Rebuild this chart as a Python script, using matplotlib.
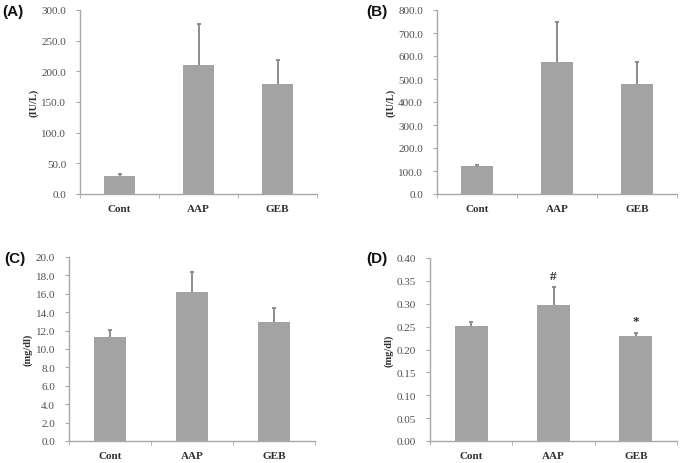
import matplotlib
matplotlib.use("Agg")
import matplotlib.pyplot as plt
import numpy as np

categories = ["Cont", "AAP", "GEB"]

a_vals = [30.0, 210.0, 180.0]
a_errs = [2.5, 67.0, 39.0]
b_vals = [120.0, 575.0, 480.0]
b_errs = [8.0, 173.0, 95.0]
c_vals = [11.3, 16.2, 12.9]
c_errs = [0.8, 2.2, 1.6]
d_vals = [0.252, 0.298, 0.230]
d_errs = [0.009, 0.038, 0.007]

a_ticks = [0, 50, 100, 150, 200, 250, 300]
b_ticks = [0, 100, 200, 300, 400, 500, 600, 700, 800]
c_ticks = [0, 2, 4, 6, 8, 10, 12, 14, 16, 18, 20]
d_ticks = [0.00, 0.05, 0.10, 0.15, 0.20, 0.25, 0.30, 0.35, 0.40]

d_marks = ["", "#", "*"]

W, H = 685, 464
fig = plt.figure(figsize=(W / 100, H / 100), dpi=100)

def px_axes(x0, y0, x1, y1):
    return fig.add_axes([x0 / W, 1 - y1 / H, (x1 - x0) / W, (y1 - y0) / H])

bar_color = "#a3a3a3"
axis_color = "#a8a8a8"
err_color = "#8c8c8c"
text_color = "#505050"

panels = [
    ("(A)", (80, 11, 317, 195), a_vals, a_errs, a_ticks, "{:.1f}", "(IU/L)", None, (2, 12)),
    ("(B)", (437, 11, 677, 195), b_vals, b_errs, b_ticks, "{:.1f}", "(IU/L)", None, (366, 12)),
    ("(C)", (69, 258, 315, 442), c_vals, c_errs, c_ticks, "{:.1f}", "(mg/dl)", None, (4, 259)),
    ("(D)", (430, 259, 677, 442), d_vals, d_errs, d_ticks, "{:.2f}", "(mg/dl)", d_marks, (366, 259)),
]

x = np.arange(len(categories))
for letter, box, vals, errs, ticks, fmt, ylabel, marks, lpos in panels:
    ax = px_axes(*box)
    vals = np.array(vals)
    errs = np.array(errs)
    ax.bar(x, vals, width=0.4, color=bar_color, zorder=2)
    ax.vlines(x, vals, vals + errs, color=err_color, linewidth=1.4, zorder=3)
    ax.scatter(x, vals + errs, marker="_", s=12, color=err_color, linewidths=1.4, zorder=3)
    ax.set_xlim(-0.5, 2.5)
    ax.set_ylim(ticks[0], ticks[-1])
    ax.set_yticks(ticks)
    ax.set_yticklabels([fmt.format(t) for t in ticks], fontsize=8,
                       family="Liberation Serif", color=text_color)
    ax.set_xticks(x)
    ax.set_xticklabels(categories, fontsize=8, family="Liberation Serif",
                       fontweight="bold", color="#303030")
    ax.set_xticks([-0.5, 0.5, 1.5, 2.5], minor=True)
    ax.tick_params(axis="x", which="major", length=0, pad=7)
    ax.tick_params(axis="x", which="minor", length=3, color=axis_color, direction="out")
    ax.tick_params(axis="y", length=3, color=axis_color, direction="out", pad=7)
    for s in ["top", "right"]:
        ax.spines[s].set_visible(False)
    for s in ["left", "bottom"]:
        ax.spines[s].set_color(axis_color)
        ax.spines[s].set_linewidth(1.0)
    ax.set_ylabel(ylabel, fontsize=7.5, family="Liberation Serif",
                  fontweight="bold", color="#303030", labelpad=2)
    if marks:
        for xi, v, e, m in zip(x, vals, errs, marks):
            if m:
                ax.text(xi, v + e + (ticks[-1] - ticks[0]) * 0.03, m, ha="center",
                        va="bottom", fontsize=9.5, family="Liberation Serif",
                        fontweight="bold", color="#303030")
    fig.text(lpos[0] / W, 1 - lpos[1] / H, letter, fontsize=11, fontweight="bold",
             family="Liberation Sans", ha="left", va="center", color="#111111")

fig.savefig("out.png", dpi=100)
